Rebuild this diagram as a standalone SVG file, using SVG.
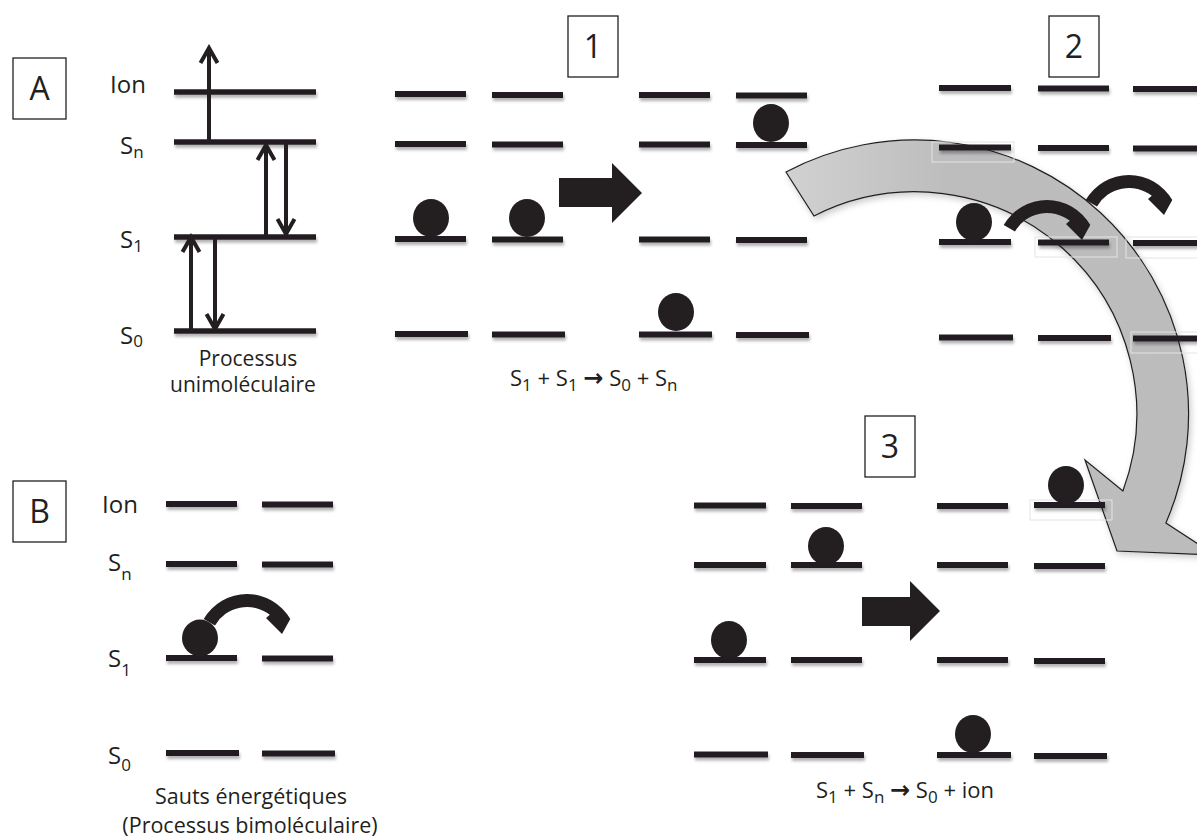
<svg xmlns="http://www.w3.org/2000/svg" xmlns:xlink="http://www.w3.org/1999/xlink" width="1197" height="839" viewBox="0 0 1197 839">
<style>
.lv{stroke:#231f20;stroke-width:6;fill:none}
.lva{stroke:#231f20;stroke-width:5.5;fill:none}
.ball{fill:#231f20}
.box{fill:#fff;stroke:#231f20;stroke-width:1.3}
.t{font-family:"Open Sans","Liberation Sans",sans-serif;fill:#231f20}
.lbl{font-size:24px}
.big{font-size:32px}
.cap{font-size:21px}
.capb{font-size:21.5px}
.eq{font-size:22px}
.sb{font-size:17px}
.ar{font-family:"DejaVu Sans",sans-serif;font-weight:bold;font-size:24px}
.va{stroke:#231f20;stroke-width:4;fill:none}
.art{fill:none;stroke:#e4e4e4;stroke-width:1}
.blk{fill:#231f20}
</style>
<defs>
<filter id="sh" filterUnits="userSpaceOnUse" x="0" y="0" width="1197" height="839">
<feDropShadow dx="1" dy="3" stdDeviation="1.5" flood-color="#000" flood-opacity="0.3"/>
</filter>
<filter id="sh2" filterUnits="userSpaceOnUse" x="0" y="0" width="1197" height="839">
<feDropShadow dx="2" dy="3" stdDeviation="3" flood-color="#000" flood-opacity="0.2"/>
</filter>
<linearGradient id="gr" x1="780" y1="0" x2="1197" y2="0" gradientUnits="userSpaceOnUse">
<stop offset="0" stop-color="#d2d2d2"/>
<stop offset="0.4" stop-color="#bdbdbd"/>
<stop offset="1" stop-color="#bcbcbc"/>
</linearGradient>
<marker id="oa" viewBox="-20 -12 24 24" markerWidth="24" markerHeight="24" refX="0" refY="0" orient="auto" markerUnits="userSpaceOnUse">
<path d="M-15,-8.5 L0,0 L-15,8.5" fill="none" stroke="#231f20" stroke-width="4"/>
</marker>
<path id="hop" d="M-43.3,-25 A50,50 0 0 1 43.3,-25 L35,-10 L19,-26 L22.8,-29.2 A37,37 0 0 0 -32,-18.5 Z"/>
</defs>
<rect width="1197" height="839" fill="#fff"/>

<!-- Big curved arrow -->
<g id="big-arrow" filter="url(#sh2)">
<path d="M786,172 A274,274 0 0 1 1165.9,523.1 L1215,555 L1117,551 L1085,460 L1122.9,491 A222,222 0 0 0 814,216 Z" fill="url(#gr)" stroke="#231f20" stroke-width="1.2"/>
</g>
<g id="artifacts">
<rect class="art" x="932" y="142" width="82" height="20"/>
<rect class="art" x="1035" y="237" width="82" height="20"/>
<rect class="art" x="1126" y="237" width="80" height="21"/>
<rect class="art" x="1131" y="332" width="75" height="21"/>
<rect class="art" x="1030" y="500" width="82" height="20"/>
</g>

<!-- Panel A -->
<g id="box-A"><rect class="box" x="13" y="58" width="53" height="61"/><text class="t big" x="39.5" y="100" text-anchor="middle">A</text></g>
<g id="panel-A">
<g filter="url(#sh)">
<line class="lva" x1="174" y1="92" x2="316" y2="92"/>
<line class="lva" x1="174" y1="142" x2="316" y2="142"/>
<line class="lva" x1="174" y1="237" x2="316" y2="237"/>
<line class="lva" x1="174" y1="331" x2="316" y2="331"/>
</g>
<text class="t lbl" x="110" y="93">Ion</text>
<text class="t lbl" x="120" y="154">S<tspan class="sb" dy="4">n</tspan></text>
<text class="t lbl" x="120" y="248">S<tspan class="sb" dy="4">1</tspan></text>
<text class="t lbl" x="120" y="344">S<tspan class="sb" dy="3">0</tspan></text>
<text class="t cap" x="248" y="366" text-anchor="middle">Processus</text>
<text class="t cap" x="243" y="392" text-anchor="middle">unimoléculaire</text>
</g>
<g id="transitions-A">
<line class="va" x1="209" y1="142" x2="209" y2="48" marker-end="url(#oa)"/>
<line class="va" x1="266" y1="237" x2="266" y2="145" marker-end="url(#oa)"/>
<line class="va" x1="286" y1="142" x2="286" y2="234" marker-end="url(#oa)"/>
<line class="va" x1="191" y1="331" x2="191" y2="237" marker-end="url(#oa)"/>
<line class="va" x1="215" y1="237" x2="215" y2="329" marker-end="url(#oa)"/>
</g>

<!-- Panel 1 -->
<g id="box-1"><rect class="box" x="568" y="16" width="50" height="61"/><text class="t big" x="593" y="58" text-anchor="middle">1</text></g>
<g id="panel-1">
<g filter="url(#sh)">
<line class="lv" x1="395" y1="94" x2="466" y2="94"/>
<line class="lv" x1="492" y1="95" x2="563" y2="95"/>
<line class="lv" x1="639" y1="95" x2="710" y2="95"/>
<line class="lv" x1="736" y1="95.5" x2="807" y2="95.5"/>
<line class="lv" x1="395" y1="144" x2="466" y2="144"/>
<line class="lv" x1="492" y1="144.5" x2="563" y2="144.5"/>
<line class="lv" x1="639" y1="144.5" x2="710" y2="144.5"/>
<line class="lv" x1="736" y1="145" x2="807" y2="145"/>
<line class="lv" x1="395" y1="239" x2="466" y2="239"/>
<line class="lv" x1="492" y1="239.5" x2="563" y2="239.5"/>
<line class="lv" x1="639" y1="239.5" x2="710" y2="239.5"/>
<line class="lv" x1="736" y1="240" x2="807" y2="240"/>
<line class="lv" x1="395" y1="334" x2="468" y2="334"/>
<line class="lv" x1="492" y1="334.5" x2="565" y2="334.5"/>
<line class="lv" x1="639" y1="334.5" x2="712" y2="334.5"/>
<line class="lv" x1="736" y1="335" x2="809" y2="335"/>
</g>
<ellipse class="ball" cx="431" cy="218" rx="18" ry="19"/>
<ellipse class="ball" cx="527" cy="218" rx="18" ry="19"/>
<ellipse class="ball" cx="676" cy="312" rx="18" ry="19"/>
<ellipse class="ball" cx="771" cy="123" rx="18" ry="19"/>
<polygon class="blk" points="559,178 612,178 612,163 642,193 612,223 612,207 559,207"/>
<text class="t eq" x="510" y="386">S<tspan class="sb" dy="5">1</tspan><tspan dy="-5"> + S</tspan><tspan class="sb" dy="5">1</tspan><tspan dy="-5"> </tspan><tspan class="ar">→</tspan><tspan> S</tspan><tspan class="sb" dy="5">0</tspan><tspan dy="-5"> + S</tspan><tspan class="sb" dy="5">n</tspan></text>
</g>

<!-- Panel 2 -->
<g id="box-2"><rect class="box" x="1049" y="16" width="50" height="61"/><text class="t big" x="1074" y="58" text-anchor="middle">2</text></g>
<g id="panel-2">
<g filter="url(#sh)">
<line class="lv" x1="939" y1="88" x2="1011" y2="88"/>
<line class="lv" x1="1038" y1="88.5" x2="1109" y2="88.5"/>
<line class="lv" x1="1133" y1="89" x2="1200" y2="89"/>
<line class="lv" x1="939" y1="147.5" x2="1011" y2="147.5"/>
<line class="lv" x1="1038" y1="148" x2="1109" y2="148"/>
<line class="lv" x1="1133" y1="148.5" x2="1200" y2="148.5"/>
<line class="lv" x1="939" y1="242" x2="1011" y2="242"/>
<line class="lv" x1="1038" y1="242.5" x2="1109" y2="242.5"/>
<line class="lv" x1="1133" y1="243" x2="1200" y2="243"/>
<line class="lv" x1="939" y1="337.5" x2="1013" y2="337.5"/>
<line class="lv" x1="1038" y1="338" x2="1111" y2="338"/>
<line class="lv" x1="1133" y1="338.5" x2="1200" y2="338.5"/>
</g>
<ellipse class="ball" cx="974" cy="222" rx="18" ry="19"/>
<use xlink:href="#hop" href="#hop" class="blk" transform="translate(1047,250)"/>
<use xlink:href="#hop" href="#hop" class="blk" transform="translate(1129,225)"/>
</g>

<!-- Panel 3 -->
<g id="box-3"><rect class="box" x="865" y="416" width="50" height="61"/><text class="t big" x="890" y="458" text-anchor="middle">3</text></g>
<g id="panel-3">
<g filter="url(#sh)">
<line class="lv" x1="694" y1="505.5" x2="766" y2="505.5"/>
<line class="lv" x1="791" y1="506" x2="862" y2="506"/>
<line class="lv" x1="937" y1="506" x2="1008" y2="506"/>
<line class="lv" x1="1034" y1="505" x2="1105" y2="505"/>
<line class="lv" x1="694" y1="565" x2="766" y2="565"/>
<line class="lv" x1="791" y1="565" x2="862" y2="565"/>
<line class="lv" x1="937" y1="565" x2="1008" y2="565"/>
<line class="lv" x1="1034" y1="566" x2="1105" y2="566"/>
<line class="lv" x1="694" y1="660" x2="766" y2="660"/>
<line class="lv" x1="791" y1="660" x2="862" y2="660"/>
<line class="lv" x1="937" y1="660" x2="1008" y2="660"/>
<line class="lv" x1="1034" y1="661" x2="1105" y2="661"/>
<line class="lv" x1="694" y1="754.5" x2="768" y2="754.5"/>
<line class="lv" x1="791" y1="755" x2="864" y2="755"/>
<line class="lv" x1="937" y1="755" x2="1011" y2="755"/>
<line class="lv" x1="1034" y1="756" x2="1107" y2="756"/>
</g>
<ellipse class="ball" cx="729" cy="640" rx="18" ry="19"/>
<ellipse class="ball" cx="826" cy="546" rx="18" ry="19"/>
<ellipse class="ball" cx="973" cy="734" rx="18" ry="19"/>
<ellipse class="ball" cx="1066" cy="485" rx="18" ry="19"/>
<polygon class="blk" points="862,597 910,597 910,581 940,611 910,641 910,626 862,626"/>
<text class="t eq" x="816" y="798">S<tspan class="sb" dy="5">1</tspan><tspan dy="-5"> + S</tspan><tspan class="sb" dy="5">n</tspan><tspan dy="-5"> </tspan><tspan class="ar">→</tspan><tspan> S</tspan><tspan class="sb" dy="5">0</tspan><tspan dy="-5"> + ion</tspan></text>
</g>

<!-- Panel B -->
<g id="box-B"><rect class="box" x="13" y="481" width="53" height="61"/><text class="t big" x="39.5" y="523" text-anchor="middle">B</text></g>
<g id="panel-B">
<g filter="url(#sh)">
<line class="lv" x1="166" y1="504" x2="237" y2="504"/>
<line class="lv" x1="262" y1="504.5" x2="333" y2="504.5"/>
<line class="lv" x1="166" y1="564" x2="237" y2="564"/>
<line class="lv" x1="262" y1="564.5" x2="333" y2="564.5"/>
<line class="lv" x1="166" y1="658" x2="237" y2="658"/>
<line class="lv" x1="262" y1="658.5" x2="333" y2="658.5"/>
<line class="lv" x1="166" y1="753" x2="239" y2="753"/>
<line class="lv" x1="262" y1="753.5" x2="335" y2="753.5"/>
</g>
<ellipse class="ball" cx="200" cy="638" rx="18" ry="18.5"/>
<use xlink:href="#hop" href="#hop" class="blk" transform="translate(247,644)"/>
<text class="t lbl" x="102" y="513">Ion</text>
<text class="t lbl" x="108" y="571">S<tspan class="sb" dy="9">n</tspan></text>
<text class="t lbl" x="108" y="667">S<tspan class="sb" dy="9">1</tspan></text>
<text class="t lbl" x="108" y="764">S<tspan class="sb" dy="7">0</tspan></text>
<text class="t capb" x="251" y="804" text-anchor="middle">Sauts énergétiques</text>
<text class="t capb" x="250" y="833" text-anchor="middle">(Processus bimoléculaire)</text>
</g>
</svg>
